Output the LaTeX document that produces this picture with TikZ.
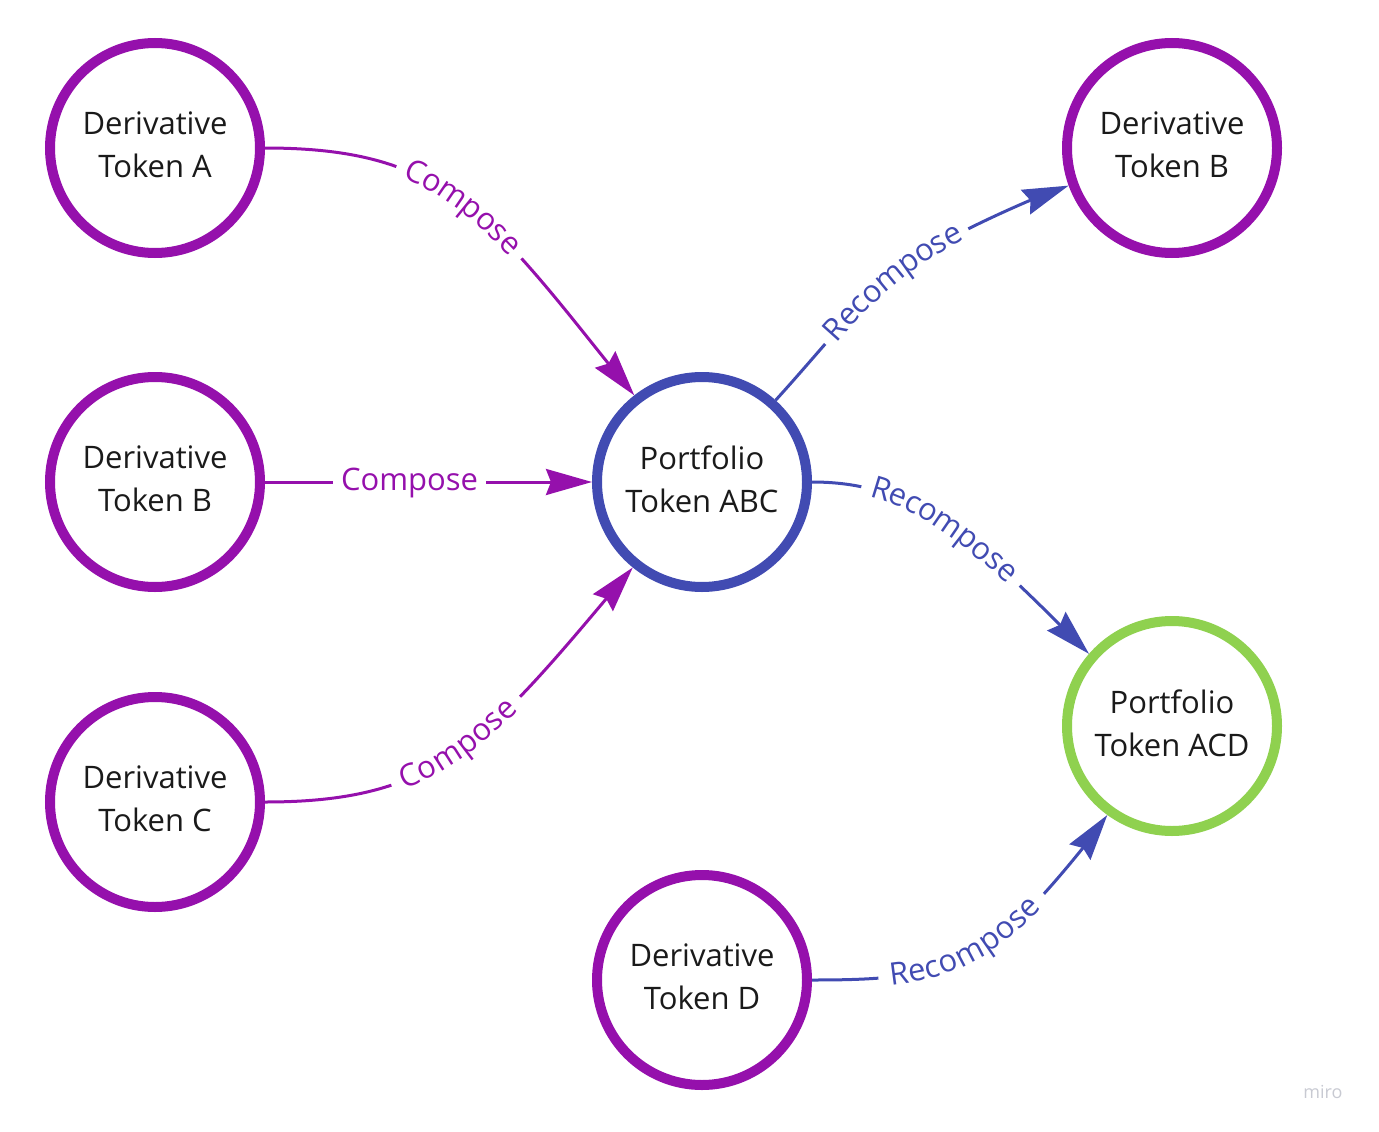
\documentclass[tikz,border=0pt]{standalone}
\usepackage{fontspec}
\setmainfont{Open Sans}
\usetikzlibrary{calc,arrows.meta,decorations.text}

\definecolor{mpurple}{HTML}{9510AC}
\definecolor{mblue}{HTML}{414BB2}
\definecolor{mgreen}{HTML}{8FD14F}
\definecolor{inktext}{HTML}{1A1A1A}
\definecolor{wmark}{HTML}{C8CAD2}

\newcommand\linkfont{\fontsize{31}{36}\selectfont}

% de Casteljau split of the cubic (#2,#3,#4,#5) at parameter #6;
% the new points are named #1q0,#1q1,#1q2,#1r0,#1r1,#1s
\newcommand\bezsplit[6]{%
  \coordinate (#1q0) at ($(#2)!#6!(#3)$);
  \coordinate (#1q1) at ($(#3)!#6!(#4)$);
  \coordinate (#1q2) at ($(#4)!#6!(#5)$);
  \coordinate (#1r0) at ($(#1q0)!#6!(#1q1)$);
  \coordinate (#1r1) at ($(#1q1)!#6!(#1q2)$);
  \coordinate (#1s)  at ($(#1r0)!#6!(#1r1)$);
}

% a labelled connector: the curve is cut open at t=#6 and again at the
% relative parameter #7 of the rest; the label runs along the gap
\newcommand\labelledlink[9]{%
  \bezsplit{#1a}{#2}{#3}{#4}{#5}{#6}
  \bezsplit{#1b}{#1as}{#1ar1}{#1aq2}{#5}{#7}
  \draw[link=#8] (#2) .. controls (#1aq0) and (#1ar0) .. (#1as);
  \draw[link=#8, linkhead] (#1bs) .. controls (#1br1) and (#1bq2) .. (#5);
  \path[decorate, decoration={text along path, text align=center,
        raise=-8pt, text color=#8, text={|\linkfont|#9}}]
        (#1as) .. controls (#1bq0) and (#1br0) .. (#1bs);
}

\begin{document}
\begin{tikzpicture}[x=1pt, y=-1pt,
  token/.style={circle, draw=#1, line width=10pt, minimum size=210pt,
    inner sep=0pt, fill=white, text=inktext, align=center,
    font=\fontsize{31}{43}\selectfont,
    execute at end node={\rule[-6pt]{0pt}{6pt}}},
  link/.style={color=#1, line width=3pt},
  linkhead/.style={-{Stealth[length=46pt, width=26pt, inset=5pt]}}]

\useasboundingbox (0,0) rectangle (1379,1132);

% tokens
\node[token=mpurple] (A)   at (155,148)  {Derivative\\Token A};
\node[token=mpurple] (B1)  at (155,482)  {Derivative\\Token B};
\node[token=mpurple] (C)   at (155,802)  {Derivative\\Token C};
\node[token=mblue]   (ABC) at (702,482)  {Portfolio\\Token ABC};
\node[token=mpurple] (B2)  at (1172,148) {Derivative\\Token B};
\node[token=mgreen]  (ACD) at (1172,726) {Portfolio\\Token ACD};
\node[token=mpurple] (D)   at (702,980)  {Derivative\\Token D};

% control points of the connectors
\coordinate (k1a) at (452,148);  \coordinate (k1b) at (490,218);
\coordinate (k2a) at (374,482);  \coordinate (k2b) at (483,482);
\coordinate (k3a) at (444,802);  \coordinate (k3b) at (488,738);
\coordinate (k4a) at (872,294);  \coordinate (k4b) at (882,257);
\coordinate (k5a) at (919,482);  \coordinate (k5b) at (975,540);
\coordinate (k6a) at (952,980);  \coordinate (k6b) at (994,968);

% compose
\labelledlink{ea}{A.east}{k1a}{k1b}{ABC.128}{0.29}{0.556}{mpurple}{Compose}
\labelledlink{eb}{B1.east}{k2a}{k2b}{ABC.west}{0.208}{0.591}{mpurple}{Compose}
\labelledlink{ec}{C.east}{k3a}{k3b}{ABC.231}{0.287}{0.565}{mpurple}{Compose}

% recompose
\labelledlink{ed}{ABC.48}{k4a}{k4b}{B2.200}{0.2}{0.725}{mblue}{Recompose}
\labelledlink{ee}{ABC.east}{k5a}{k5b}{ACD.139}{0.165}{0.731}{mblue}{Recompose}
\labelledlink{ef}{D.east}{k6a}{k6b}{ACD.234}{0.178}{0.745}{mblue}{Recompose}

% board mark
\node[text=wmark, font=\fontsize{18}{20}\selectfont] (mark) at (1323,1092) {miro};
\end{tikzpicture}
\end{document}
